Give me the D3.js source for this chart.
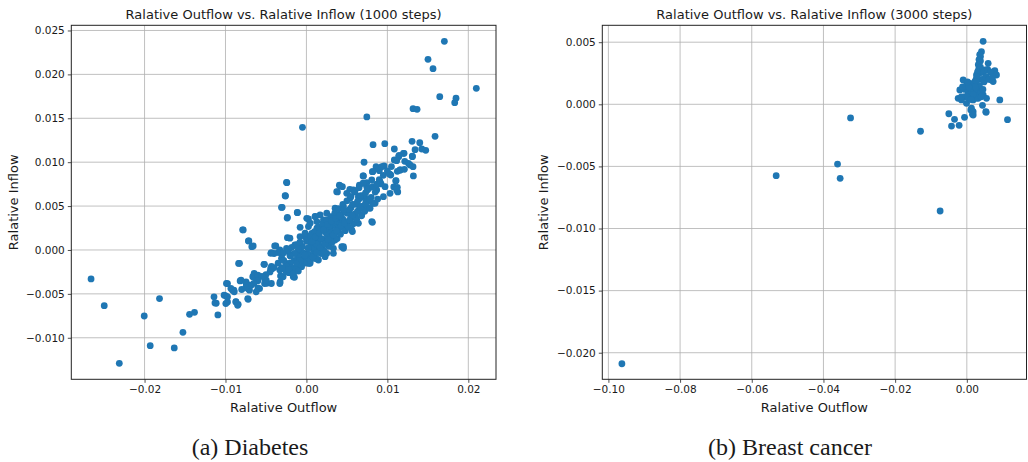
<!DOCTYPE html>
<html><head><meta charset="utf-8">
<script src="https://cdn.jsdelivr.net/npm/d3@7"></script>
<style>
html,body{margin:0;padding:0;background:#fff;}
svg{display:block;}
text{font-family:"DejaVu Sans",sans-serif;fill:#1a1a1a;}
.cap{font-family:"Liberation Serif",serif;}
</style></head><body>
<svg id="c" width="1028" height="462"></svg>
<script>
// ---------- DATA ----------
const titleA = "Ralative Outflow vs. Ralative Inflow (1000 steps)";
const titleB = "Ralative Outflow vs. Ralative Inflow (3000 steps)";
const xLabel = "Ralative Outflow";
const yLabel = "Ralative Inflow";
const captionA = "(a) Diabetes";
const captionB = "(b) Breast cancer";

const ticksAX = [-0.02, -0.01, 0.00, 0.01, 0.02];
const ticksAY = [-0.010, -0.005, 0.000, 0.005, 0.010, 0.015, 0.020, 0.025];
const ticksBX = [-0.10, -0.08, -0.06, -0.04, -0.02, 0.00];
const ticksBY = [-0.020, -0.015, -0.010, -0.005, 0.000, 0.005];
const domainAX = [-0.02905, 0.02342];
const domainAY = [-0.01473, 0.02559];
const domainBX = [-0.1017, 0.01665];
const domainBY = [-0.02214, 0.00636];

// Diabetes: [relative outflow, relative inflow]
const diabetes = [
 [0.01704,0.02377],[0.01502,0.02172],[0.01564,0.02065],[0.02099,0.01841],[0.01647,0.01746],
 [0.01848,0.01728],[0.01832,0.01678],[0.01317,0.01609],[0.01367,0.01602],[0.00746,0.01515],
 [-0.00049,0.01397],[0.01589,0.01295],[0.01305,0.01238],[0.01400,0.01222],[0.00823,0.01199],
 [0.00968,0.01211],[0.01086,0.01150],[0.01342,0.01142],[0.01425,0.01150],[0.01474,0.01135],
 [0.01206,0.01101],[0.01144,0.01078],[0.01309,0.01070],[0.01086,0.01025],[0.01215,0.01010],
 [0.00712,0.00999],[0.01317,0.00949],[0.01260,0.00987],[0.01160,0.00911],[0.01123,0.00896],
 [0.01321,0.00843],[0.00959,0.00957],[0.00860,0.00949],[0.00815,0.00892],[0.00901,0.00903],
 [0.00700,0.00843],[0.01042,0.00854],[0.01104,0.00786],[0.00922,0.00752],[0.00746,0.00767],
 [0.00654,0.00737],[0.00407,0.00737],[0.00444,0.00721],[0.00536,0.00691],[0.00383,0.00661],
 [0.01079,0.00718],[0.01128,0.00661],[-0.00242,0.00767],[-0.00259,0.00615],
 [-0.02661,-0.00330],[-0.02498,-0.00634],[-0.01815,-0.00554],[-0.02004,-0.00752],[-0.01526,-0.00938],
 [-0.01444,-0.00733],[-0.01383,-0.00710],[-0.01930,-0.01090],[-0.01633,-0.01116],[-0.02312,-0.01291],
 [-0.01115,-0.00607],[-0.01094,-0.00740],[-0.00975,-0.00383],[-0.00995,-0.00524],[-0.00975,-0.00592],
 [-0.00896,-0.00459],[-0.00872,-0.00589],[-0.00843,-0.00619],[-0.00720,-0.00562],[-0.00819,-0.00353],
 [-0.00711,-0.00448],[-0.00744,-0.00380],[-0.00646,-0.00266],[-0.00617,-0.00342],[-0.00600,-0.00433],
 [-0.00514,-0.00334],[-0.00489,-0.00380],[-0.00519,-0.00163],[-0.00827,-0.00152],[-0.00781,0.00228],
 [-0.00711,0.00103],[-0.00658,0.00046],[-0.00432,-0.00186],[-0.00423,-0.00213],[-0.00378,0.00046],
 [-0.00440,-0.00038],[-0.00325,-0.00364],[-0.00312,-0.00216],[-0.00320,-0.00296],[-0.00300,0.00486],
 [-0.00235,0.00372],[-0.00111,0.00425],[-0.00235,0.00140],[-0.00078,0.00258],[0.00025,0.00353],
 [-0.00201,-0.00190],[-0.00217,-0.00258],[-0.00148,-0.00311],[0.00457,0.00019],[0.00815,0.00315],
 [0.00568,0.00209],
 [0.01198,0.01101],[0.01140,0.01063],[0.01115,0.01017],[0.01309,0.01063],[0.01280,0.00968],
 [0.01156,0.00911],[0.01210,0.00919],[0.01025,0.00866],[0.01107,0.00790],[0.01123,0.00714],
 [0.00868,0.00930],[0.00819,0.00892],[0.00930,0.00949],[0.00704,0.00843],[0.00807,0.00797],
 [0.00909,0.00778],[0.00971,0.00721],[0.00745,0.00721],[0.00868,0.00683],[0.00951,0.00607],
 [0.01033,0.00645],[0.01115,0.00683],[0.00416,0.00729],[0.00374,0.00664],[0.00498,0.00645],
 [0.00580,0.00683],[0.00539,0.00588],[0.00642,0.00607],[0.00724,0.00588],[0.00786,0.00569],
 [0.00848,0.00532],[0.00745,0.00475],[0.00663,0.00494],[0.00786,0.00475],[0.00457,0.00494],
 [0.00354,0.00475],[0.00251,0.00418],[0.00169,0.00399],[0.00107,0.00380],[0.00004,0.00361],
 [0.00025,0.00266],[0.00128,0.00323],[0.00210,0.00342],[0.00333,0.00380],[0.00416,0.00399],
 [0.00519,0.00418],[0.00601,0.00380],[0.00683,0.00399],[0.00807,0.00323],[0.00642,0.00304],
 [0.00560,0.00228],[0.00457,0.00266],[0.00374,0.00247],[0.00292,0.00266],[0.00230,0.00209],
 [0.00148,0.00209],[0.00066,0.00190],[-0.00016,0.00152],[0.00086,0.00114],[0.00169,0.00133],
 [0.00272,0.00133],[0.00354,0.00114],[0.00436,0.00038],[0.00333,0.00019],[0.00251,-0.00038],
 [0.00169,-0.00019],[0.00086,0.00000],[0.00004,-0.00038],[-0.00037,-0.00114],[0.00045,-0.00152],
 [0.00148,-0.00114],[0.00230,-0.00076],[0.00333,-0.00038],[0.00457,0.00038],
 [-0.00246,0.00771],[-0.00263,0.00618],[-0.00308,0.00485],[-0.00238,0.00363],[-0.00113,0.00427],
 [-0.00788,0.00229],[-0.00717,0.00103],[-0.00675,0.00038],[-0.00838,-0.00153],[-0.00525,-0.00164],
 [-0.00442,-0.00210],[-0.00392,0.00046],[-0.00433,-0.00031],[-0.00329,0.00000],[-0.00246,0.00019],
 [-0.00204,-0.00057],[-0.00308,-0.00095],[-0.00246,-0.00153],[-0.00329,-0.00229],[-0.00288,-0.00305],
 [-0.00163,-0.00305],[-0.00142,-0.00229],[-0.00100,-0.00191],[-0.00079,-0.00095],[-0.00100,-0.00019],
 [-0.00058,0.00038],[-0.00079,0.00153],[0.00108,0.00381],[0.00046,0.00305],[0.00129,0.00248],
 [-0.00017,0.00191],[0.00046,0.00115],[0.00129,0.00076],[-0.00204,0.00134],[-0.00142,0.00057],
 [-0.00017,-0.00095],[0.00025,-0.00153],[-0.00329,-0.00382],[-0.00988,-0.00382],[-0.01017,-0.00515],
 [-0.00975,-0.00534],[-0.00913,-0.00458],[-0.01130,-0.00603],[-0.00996,-0.00611],[-0.00871,-0.00592],
 [-0.00850,-0.00630],[-0.00808,-0.00344],[-0.00746,-0.00363],[-0.00663,-0.00305],[-0.00600,-0.00286],
 [-0.00517,-0.00382],[-0.00579,-0.00440],[-0.00683,-0.00401],[-0.00704,-0.00458],[-0.00725,-0.00553],
 [-0.00621,-0.00477],[-0.00496,-0.00344],[-0.00433,-0.00382],[-0.00933,-0.00439],[-0.00892,-0.00477],
 [-0.01142,-0.00534],
 [0.0005,0.0005],[0.0010,0.0002],[0.0015,0.0008],[0.0020,0.0012],[0.0025,0.0018],[0.0030,0.0022],
 [0.0035,0.0028],[0.0040,0.0032],[0.0045,0.0035],[0.0050,0.0042],[0.0055,0.0048],[0.0060,0.0052],
 [0.0065,0.0058],[0.0070,0.0062],[0.0075,0.0068],[0.0010,-0.0005],[0.0015,-0.0002],[0.0020,0.0004],
 [0.0025,0.0009],[0.0030,0.0014],[0.0035,0.0019],[0.0040,0.0024],[0.0045,0.0027],[0.0050,0.0031],
 [0.0055,0.0036],[0.0060,0.0041],[0.0065,0.0046],[0.0070,0.0050],[0.0075,0.0055],[0.0080,0.0060],
 [0.0085,0.0066],[0.0000,0.0010],[0.0005,0.0016],[0.0010,0.0021],[0.0015,0.0026],[0.0020,0.0030],
 [0.0025,0.0034],[0.0030,0.0038],[0.0035,0.0042],[0.0040,0.0047],[0.0045,0.0052],[0.0050,0.0056],
 [0.0055,0.0061],[0.0060,0.0066],[0.0065,0.0071],[0.0070,0.0076],[-0.0005,-0.0003],[-0.0010,-0.0008],
 [-0.0015,-0.0012],[-0.0020,-0.0015],[-0.0025,-0.0018],[-0.0005,0.0004],[-0.0010,0.0001],[-0.0015,-0.0004],
 [-0.0020,-0.0007],[0.0000,-0.0009],[0.0005,-0.0012],[-0.0003,-0.0015],[0.0012,-0.0010],[0.0018,-0.0004],
 [0.0022,-0.0001],[0.0028,0.0004],[0.0032,0.0009],[0.0038,0.0013],[0.0042,0.0018],[0.0048,0.0022],
 [0.0052,0.0026],[0.0058,0.0030],[0.0062,0.0035],[0.0068,0.0039],[0.0072,0.0044],[0.0078,0.0048],
 [0.0082,0.0053],[0.0088,0.0058],[-0.0030,-0.0005],[-0.0035,-0.0003],[-0.0040,-0.0004],[-0.0028,-0.0003],
 [-0.0022,0.0000],[-0.0018,0.0003],[-0.0012,0.0006],[-0.0008,0.0009],
 [0.0012,0.0007],[0.0018,0.0013],[0.0024,0.0024],[0.0028,0.0027],[0.0033,0.0032],[0.0037,0.0036],
 [0.0043,0.0040],[0.0047,0.0044],[0.0053,0.0046],[0.0057,0.0052],[0.0063,0.0055],[0.0067,0.0062],
 [0.0073,0.0065],[0.0077,0.0070],[0.0082,0.0072],[0.0087,0.0075],[0.0090,0.0080],[0.0095,0.0085],
 [0.0100,0.0090],[0.0105,0.0095],[0.0003,-0.0005],[0.0008,-0.0008],[0.0013,-0.0003],[0.0017,0.0003],
 [0.0023,0.0007],[0.0027,0.0012],[0.0033,0.0017],[0.0037,0.0022],[0.0043,0.0028],[0.0047,0.0031],
 [0.0053,0.0034],[0.0057,0.0040],[0.0063,0.0044],[0.0067,0.0049],[0.0073,0.0053],[0.0078,0.0058],
 [-0.0008,-0.0012],[-0.0012,-0.0016],[-0.0018,-0.0020],[-0.0013,-0.0022],[-0.0006,-0.0019],[-0.0002,-0.0006],
 [0.0002,0.0002],[0.0007,0.0010],[0.0011,0.0015],[0.0016,0.0019],[0.0021,0.0023],[0.0026,0.0029],
 [0.0031,0.0033],[0.0036,0.0036],[0.0041,0.0039],[0.0046,0.0046],[-0.0025,-0.0025],[-0.0030,-0.0020],
 [-0.0035,-0.0015],[-0.0028,-0.0012],[-0.0022,-0.0022],[-0.0016,-0.0027],[-0.0010,-0.0024],[-0.0040,-0.0020],
 [-0.0045,-0.0025],[-0.0050,-0.0028],[-0.0055,-0.0030],[-0.0060,-0.0035],[-0.0065,-0.0038],[-0.0070,-0.0040],
 [-0.0075,-0.0043],[-0.0080,-0.0045]
];

// Breast cancer: [relative outflow, relative inflow]
const breastCancer = [
 [0.00455,0.00507],[0.00920,0.00035],[0.01135,-0.00124],[0.00539,-0.00064],[0.00437,-0.00008],
 [0.00159,-0.00081],[0.00112,-0.00046],[-0.00064,-0.00105],[-0.00502,-0.00076],[-0.00343,-0.00121],
 [-0.00427,-0.00175],[-0.00215,-0.00169],[-0.01292,-0.00217],[-0.03244,-0.00110],[-0.03607,-0.00481],
 [-0.03534,-0.00596],[-0.05319,-0.00575],[-0.00745,-0.00859],[-0.09623,-0.02089],
 [0.00409,0.00424],[0.00381,0.00384],[0.00363,0.00344],[0.00344,0.00303],[0.00316,0.00263],
 [0.00270,0.00236],[0.00251,0.00196],[0.00223,0.00156],[0.00177,0.00115],[0.00595,0.00330],
 [0.00781,0.00271],[0.00828,0.00236],[0.00688,0.00196],[0.00735,0.00183],[0.00502,0.00276],
 [0.00549,0.00223],[-0.00102,0.00196],[-0.00195,0.00115],[-0.00242,0.00048],[-0.00149,0.00035],
 [-0.00009,0.00156],[0.00084,0.00169],[0.00037,0.00102],[0.00130,0.00075],[0.00270,0.00142],
 [0.00363,0.00102],[0.00456,0.00075],[0.00549,0.00048],[-0.00056,0.00062],[0.00177,0.00035],
 [0.00316,0.00048],[-0.00009,0.00008],[0.00130,-0.00032],[0.00177,-0.00059],[0.00530,-0.00059],
 [0.00177,-0.00086],
 [0.0020,0.0012],[0.0025,0.0008],[0.0030,0.0010],[0.0035,0.0015],[0.0030,0.0020],[0.0035,0.0025],
 [0.0028,0.0005],[0.0010,0.0012],[0.0005,0.0008],[0.0015,0.0016],[0.0040,0.0010],[0.0045,0.0012],
 [0.0038,0.0035],[0.0033,0.0028],[0.0040,0.0006],[0.0022,0.0018],[0.0008,0.0004],[0.0042,0.0020],
 [0.0048,0.0018],[-0.0005,0.0012],[0.0000,0.0006],
 [0.0036,0.0040],[0.0034,0.0036],[0.0032,0.0032],[0.0038,0.0030],[0.0030,0.0026],[0.0028,0.0022],
 [0.0026,0.0018],[0.0024,0.0014],[0.0018,0.0008],[0.0012,0.0004],[0.0006,0.0014],[0.0002,0.0018],
 [-0.0012,0.0014],[-0.0015,0.0006],[0.0046,0.0026],[0.0052,0.0022],[0.0062,0.0020],[0.0058,0.0028],
 [0.0066,0.0026],[0.0072,0.0022]
];

// ---------- DRAW ----------
const svg = d3.select("#c");
const fmtMinus = (d, p) => { const s = d3.format("." + p + "f")(Math.abs(d)); return (d < -1e-12 ? "\u2212" : "") + s; };

function panel(cfg) {
  const {x0, x1, y0, y1, dx, dy, tx, ty, px, py, data, title, ylabX} = cfg;
  const x = d3.scaleLinear().domain(dx).range([x0, x1]);
  const y = d3.scaleLinear().domain(dy).range([y1, y0]);
  const g = svg.append("g");
  // grid
  g.append("g").selectAll("line").data(tx).join("line")
    .attr("x1", d => x(d)).attr("x2", d => x(d)).attr("y1", y0).attr("y2", y1)
    .attr("stroke", "#b0b0b0").attr("stroke-width", 0.8);
  g.append("g").selectAll("line").data(ty).join("line")
    .attr("y1", d => y(d)).attr("y2", d => y(d)).attr("x1", x0).attr("x2", x1)
    .attr("stroke", "#b0b0b0").attr("stroke-width", 0.8);
  // points
  g.append("g").selectAll("circle").data(data).join("circle")
    .attr("cx", d => x(d[0])).attr("cy", d => y(d[1])).attr("r", 3.4)
    .attr("fill", "#1f77b4");
  // axes
  const ax = g.append("g").attr("transform", `translate(0,${y1})`)
    .call(d3.axisBottom(x).tickValues(tx).tickFormat(d => fmtMinus(d, px)).tickSize(3.5).tickPadding(3));
  const ay = g.append("g").attr("transform", `translate(${x0},0)`)
    .call(d3.axisLeft(y).tickValues(ty).tickFormat(d => fmtMinus(d, py)).tickSize(3.5).tickPadding(3));
  [ax, ay].forEach(a => {
    a.select(".domain").remove();
    a.selectAll("line").attr("stroke", "#222").attr("stroke-width", 0.8);
    a.selectAll("text").attr("font-size", "10.5px").attr("font-family", "DejaVu Sans").attr("fill", "#1a1a1a");
  });
  // frame
  g.append("rect").attr("x", x0).attr("y", y0).attr("width", x1 - x0).attr("height", y1 - y0)
    .attr("fill", "none").attr("stroke", "#222").attr("stroke-width", 1);
  // title and labels
  const cx = (x0 + x1) / 2;
  g.append("text").attr("x", cx).attr("y", 19).attr("text-anchor", "middle")
    .attr("font-size", "13px").text(title);
  g.append("text").attr("x", cx).attr("y", 412).attr("text-anchor", "middle")
    .attr("font-size", "13px").text(xLabel);
  g.append("text").attr("transform", `translate(${ylabX},${(y0 + y1) / 2}) rotate(-90)`)
    .attr("text-anchor", "middle").attr("font-size", "13px").text(yLabel);
}

panel({x0: 71.3, x1: 496, y0: 25.3, y1: 379.3, dx: domainAX, dy: domainAY, tx: ticksAX, ty: ticksAY,
       px: 2, py: 3, data: diabetes, title: titleA, ylabX: 18});
panel({x0: 602.3, x1: 1026.5, y0: 25.3, y1: 379.3, dx: domainBX, dy: domainBY, tx: ticksBX, ty: ticksBY,
       px: 2, py: 3, data: breastCancer, title: titleB, ylabX: 548});

svg.append("text").attr("class", "cap").attr("x", 250).attr("y", 455).attr("text-anchor", "middle")
  .attr("font-size", "24px").text(captionA);
svg.append("text").attr("class", "cap").attr("x", 790).attr("y", 455).attr("text-anchor", "middle")
  .attr("font-size", "24px").text(captionB);
</script>
</body></html>
